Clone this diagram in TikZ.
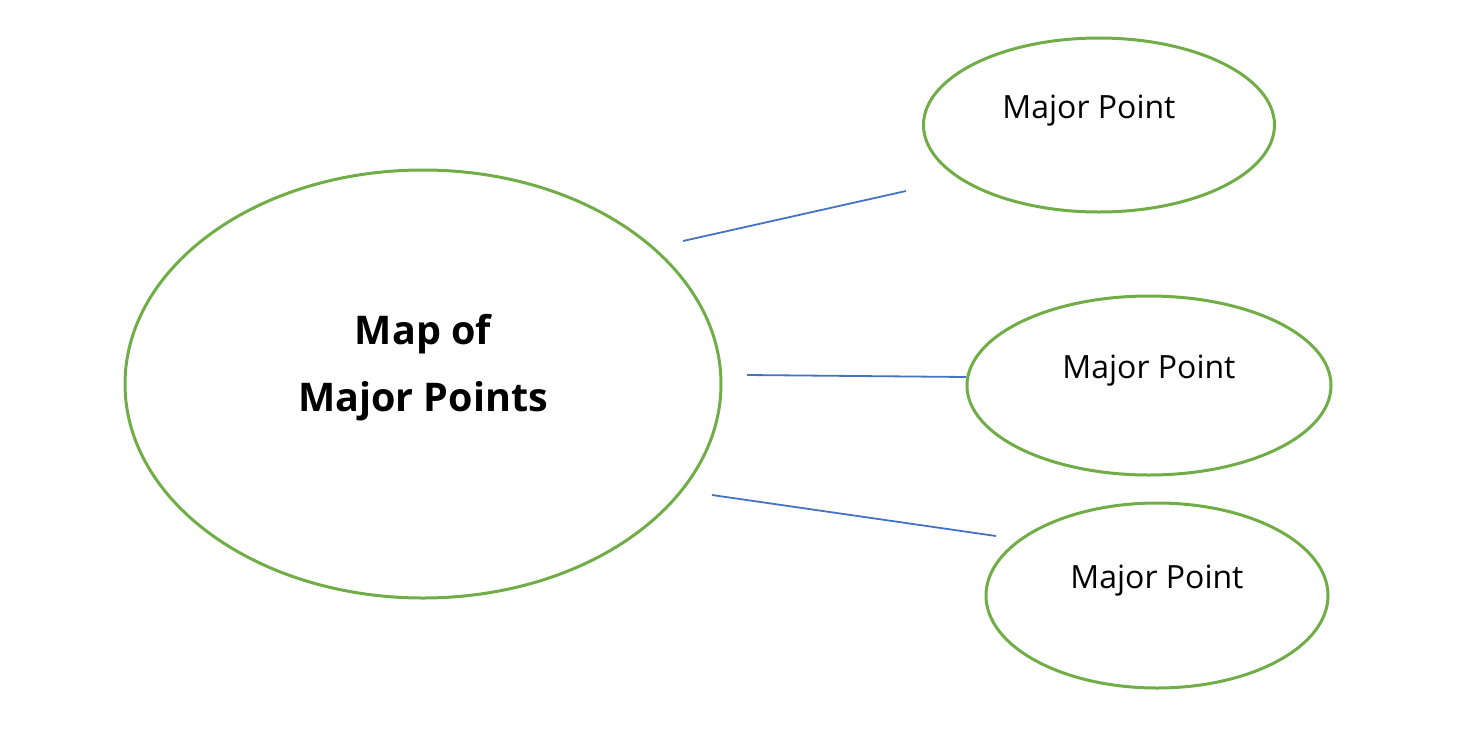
\documentclass[tikz,border=0pt]{standalone}
\usepackage{fontspec}
\setmainfont{Open Sans}
\usetikzlibrary{shapes.geometric}
\definecolor{ogreen}{HTML}{70AD47}
\definecolor{oblue}{HTML}{4472C4}
\begin{document}
\begin{tikzpicture}[x=1pt,y=-1pt,
  bubble/.style={draw=ogreen,line width=3pt,ellipse,inner sep=0pt},
  link/.style={draw=oblue,line width=1.8pt},
  small/.style={font=\fontsize{32}{38}\selectfont},
  big/.style={font=\fontsize{39.5}{67}\selectfont\bfseries,align=center}]
\useasboundingbox (0,0) rectangle (1465,737);
\node[bubble,minimum width=596pt,minimum height=428pt] (main) at (423,384) {};
\node[bubble,minimum width=351pt,minimum height=174pt] (p1) at (1099,125) {};
\node[bubble,minimum width=364pt,minimum height=179pt] (p2) at (1149,385.5) {};
\node[bubble,minimum width=342pt,minimum height=185pt] (p3) at (1157,595.5) {};
\node[big] (mt) at (423,368) {Map of\\Major Points};
\node[small] (t1) at (1089,111) {Major Point};
\node[small] (t2) at (1149,371) {Major Point};
\node[small] (t3) at (1157,581) {Major Point};
\coordinate (a1) at (683,241); \coordinate (b1) at (906,191);
\coordinate (a2) at (747,375); \coordinate (b2) at (966,377);
\coordinate (a3) at (712,495); \coordinate (b3) at (996,536);
\draw[link] (a1) -- (b1);
\draw[link] (a2) -- (b2);
\draw[link] (a3) -- (b3);
\end{tikzpicture}
\end{document}
